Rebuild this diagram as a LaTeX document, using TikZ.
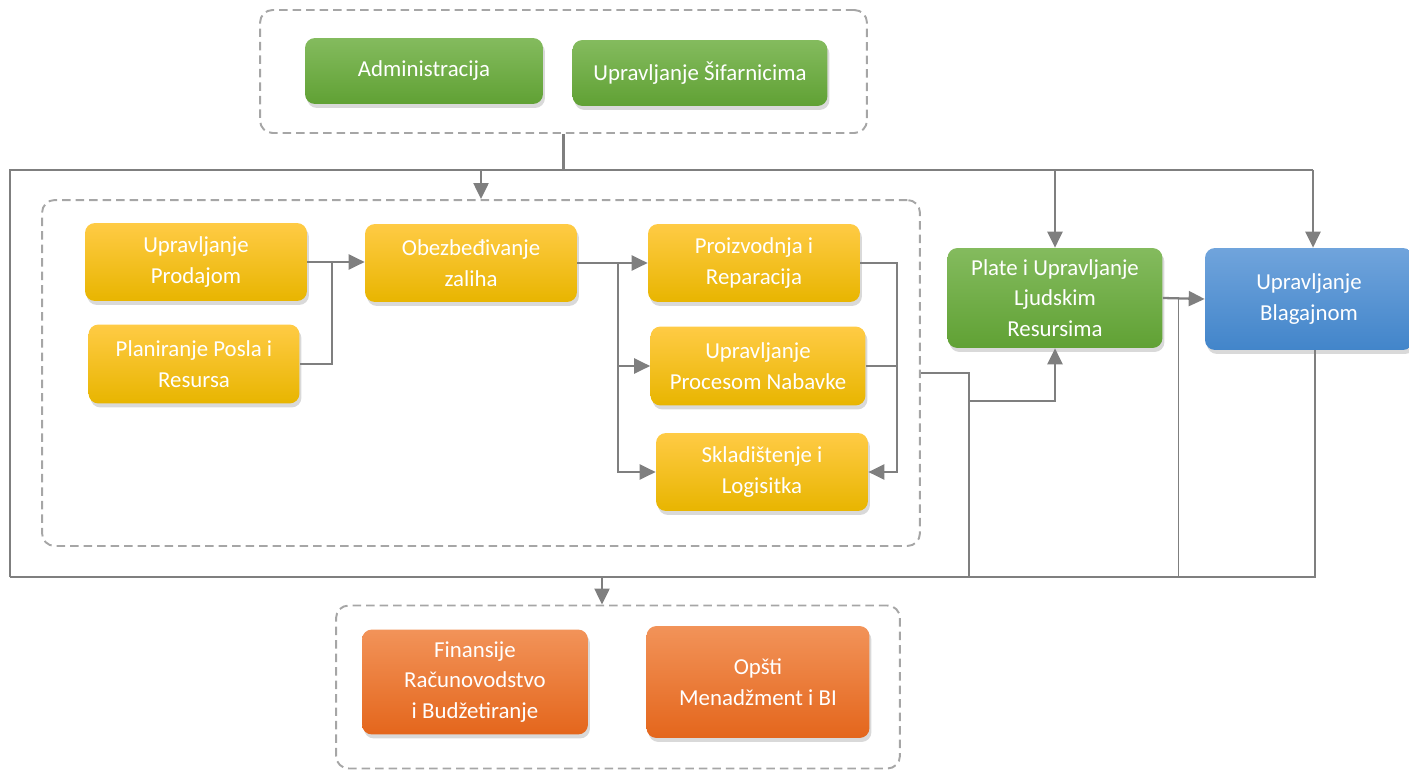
\documentclass[tikz,border=0pt]{standalone}
\usepackage{fontspec}
\setmainfont{Carlito}
\usetikzlibrary{arrows.meta,shadows,calc}
\definecolor{yeltop}{HTML}{FFCB45}
\definecolor{yelmid}{HTML}{FFC000}
\definecolor{yelbot}{HTML}{E8B500}
\definecolor{grntop}{HTML}{84BB5E}
\definecolor{grnbot}{HTML}{60A134}
\definecolor{blutop}{HTML}{70A4DC}
\definecolor{blubot}{HTML}{4285CA}
\definecolor{orgtop}{HTML}{F29359}
\definecolor{orgbot}{HTML}{E4661C}
\definecolor{linegray}{HTML}{7F7F7F}
\definecolor{groupgray}{HTML}{A6A6A6}
\begin{document}
\begin{tikzpicture}
[x=0.02cm,y=-0.02cm,
  boxdecorate/.style={rounded corners=0.2cm,text=white,align=center,inner sep=2pt,
    font=\fontsize{13}{17.5}\selectfont,
    drop shadow={opacity=0.3,shadow xshift=0.04cm,shadow yshift=-0.08cm}},
  yellowbox/.style={boxdecorate,top color=yeltop,middle color=yelmid,bottom color=yelbot},
  greenbox/.style={boxdecorate,top color=grntop,bottom color=grnbot},
  bluebox/.style={boxdecorate,top color=blutop,bottom color=blubot},
  orangebox/.style={boxdecorate,top color=orgtop,bottom color=orgbot},
  groupdecorate/.style={draw=groupgray,line width=1.1pt,rounded corners=0.25cm,
    dash pattern=on 0.17cm off 0.1cm,inner sep=0pt},
  linedecorate/.style={draw=linegray,line width=0.8pt},
  arrowdecorate/.style={draw=linegray,line width=1.3pt,
    -{Triangle[length=0.32cm,width=0.3cm]}}]
\useasboundingbox (0,0) rectangle (1409,770);
%% groups
\node (topgrp) at (563.5,71.5) [groupdecorate,minimum width=12.14cm,minimum height=2.46cm] {};
\node (midgrp) at (481,373) [groupdecorate,minimum width=17.56cm,minimum height=6.92cm] {};
\node (botgrp) at (618,687) [groupdecorate,minimum width=11.28cm,minimum height=3.26cm] {};
%% modules
\node (admin) at (424,71) [greenbox,minimum width=4.76cm,minimum height=1.32cm] {Administracija};
\node (sifra) at (700,73) [greenbox,minimum width=5.1cm,minimum height=1.32cm] {Upravljanje Šifarnicima};
\node (prodaja) at (196,262) [yellowbox,minimum width=4.44cm,minimum height=1.56cm] {Upravljanje\\Prodajom};
\node (plan) at (194,364) [yellowbox,minimum width=4.22cm,minimum height=1.58cm] {Planiranje Posla i\\Resursa};
\node (zalihe) at (471,263) [yellowbox,minimum width=4.24cm,minimum height=1.56cm] {Obezbeđivanje\\zaliha};
\node (proizv) at (754,263) [yellowbox,minimum width=4.24cm,minimum height=1.56cm] {Proizvodnja i\\Reparacija};
\node (nabavka) at (758,366) [yellowbox,minimum width=4.3cm,minimum height=1.58cm] {Upravljanje\\Procesom Nabavke};
\node (sklad) at (762,472) [yellowbox,minimum width=4.24cm,minimum height=1.56cm] {Skladištenje i\\Logisitka};
\node (plate) at (1055,298) [greenbox,minimum width=4.3cm,minimum height=2cm] {Plate i Upravljanje\\Ljudskim\\Resursima};
\node (blagajna) at (1309,299) [bluebox,minimum width=4.16cm,minimum height=2.04cm] {Upravljanje\\Blagajnom};
\node (finans) at (475,682) [orangebox,minimum width=4.52cm,minimum height=2.1cm] {Finansije\\Računovodstvo\\i Budžetiranje};
\node (opsti) at (758,682) [orangebox,minimum width=4.46cm,minimum height=2.24cm] {Opšti\\Menadžment i BI};
%% bus lines
\coordinate (tl) at (10,170);
\coordinate (bl) at (10,577);
\coordinate (tr) at (1313,170);
\coordinate (br) at (1315,577);
\draw[linedecorate] (bl) -- (tl) -- (tr);
\draw[linedecorate] (br |- blagajna.south) -- (br) -- (bl);
\draw[linedecorate, line width=1.2pt] (topgrp.south) -- (topgrp.south |- tl);
\draw[linedecorate] (midgrp.east) -- ++(48,0) coordinate (hr) -- (hr |- bl);
\draw[linedecorate] ($(plate.east)!0.38!(blagajna.west)$) coordinate (pb) -- (pb |- bl);
%% arrows
\draw[arrowdecorate] (tr) -- (tr |- blagajna.north);
\foreach \endnode in {midgrp, plate} {
  \draw[arrowdecorate] (\endnode.north |- tl) -- (\endnode.north);
}
\draw[arrowdecorate] ([xshift=-0.32cm]botgrp.north |- bl) -- ([xshift=-0.32cm]botgrp.north);
\draw[arrowdecorate] ([yshift=-0.56cm]hr) -| (plate.south);
\draw[arrowdecorate] (plate.east) -- (blagajna.west);
\draw[arrowdecorate] (prodaja.east) -- (prodaja.east -| zalihe.west);
\draw[arrowdecorate, -] (plan.east) -- ++(32,0) |- (prodaja.east);
\draw[arrowdecorate] (zalihe.east) -- (proizv.west);
\coordinate (zj) at ($(zalihe.east)+(41,0)$);
\foreach \endnode in {nabavka, sklad} {
  \draw[arrowdecorate] (zj) |- (\endnode.west);
}
\draw[arrowdecorate] (proizv.east) -- ++(37,0) coordinate (pj) |- (sklad.east);
\draw[linedecorate] (nabavka.east) -- (nabavka.east -| pj);
\end{tikzpicture}
\end{document}
